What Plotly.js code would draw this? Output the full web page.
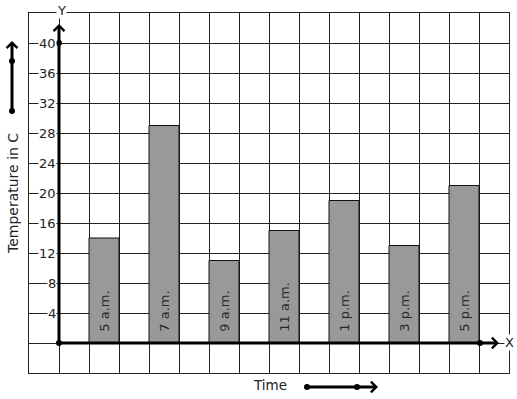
<!DOCTYPE html>
<html><head><meta charset="utf-8">
<script src="https://cdn.plot.ly/plotly-3.0.1.min.js"></script>
<style>html,body{margin:0;padding:0;background:#fff}</style>
</head><body>
<div id="chart" style="width:517px;height:399px"></div>
<script>
var times = ["5 a.m.", "7 a.m.", "9 a.m.", "11 a.m.", "1 p.m.", "3 p.m.", "5 p.m."];
var barPositions = [1.5, 3.5, 5.5, 7.5, 9.5, 11.5, 13.5];
var temperatures = [14, 29, 11, 15, 19, 13, 21];
var yTicks = [4, 8, 12, 16, 20, 24, 28, 32, 36, 40];

// pixel helpers for paper coordinates (plot area 29..509 x 13..373)
function px(x){ return (x - 29) / 480; }
function py(y){ return (373 - y) / 360; }

var traces = [{
  type: 'bar',
  x: barPositions,
  y: temperatures,
  width: 1,
  text: times,
  texttemplate: '\u00a0\u00a0%{text}',
  textposition: 'inside',
  insidetextanchor: 'start',
  textangle: -90,
  textfont: {family: 'DejaVu Sans', size: 13, color: '#2a2a2a'},
  marker: {color: '#999999', line: {color: '#111', width: 1}},
  hoverinfo: 'skip',
  cliponaxis: false
}];

var baseFont = {family: 'DejaVu Sans', size: 13, color: '#222'};
var annotations = [];
yTicks.forEach(function(v){
  annotations.push({x: px(57), xref: 'paper', y: v, yref: 'y', text: String(v),
    showarrow: false, xanchor: 'right', yanchor: 'middle', bgcolor: '#fff',
    borderpad: 0, font: baseFont});
});
function arrow(xp, yp, axp, ayp){
  return {x: px(xp), y: py(yp), xref: 'paper', yref: 'paper', ax: axp - xp, ay: ayp - yp,
    showarrow: true, arrowhead: 4, arrowsize: 0.7, arrowwidth: 3, arrowcolor: '#000', text: '', standoff: 0};
}
function label(xp, yp, txt, angle, size){
  return {x: px(xp), y: py(yp), xref: 'paper', yref: 'paper', text: txt, showarrow: false,
    xanchor: 'center', yanchor: 'middle', textangle: angle || 0, bgcolor: angle ? 'rgba(0,0,0,0)' : '#fff',
    borderpad: 0, font: {family: 'DejaVu Sans', size: size || 13, color: '#222'}};
}
// Y axis arrow
annotations.push(arrow(59, 24, 59, 343));
// X axis arrow
annotations.push(arrow(499, 343, 59, 343));
// Axis letters
annotations.push(label(61, 10, 'Y'));
annotations.push(label(509, 342, 'X'));
// Y title
annotations.push(label(13, 194, 'Temperature in C', -90, 14));
annotations.push(arrow(12, 41, 12, 111));
// X title
annotations.push(label(270, 385, 'Time', 0, 13.5));
annotations.push(arrow(378, 387, 307, 387));

function dot(xp, yp){
  return {type: 'circle', xref: 'paper', yref: 'paper', xsizemode: 'pixel', ysizemode: 'pixel',
    xanchor: px(xp), yanchor: py(yp), x0: -3, x1: 3, y0: -3, y1: 3,
    fillcolor: '#000', line: {width: 0}, layer: 'above'};
}
var shapes = [dot(59, 343), dot(480, 343), dot(59, 43), dot(12, 111), dot(12, 61), dot(307, 387), dot(357, 387)];

var layout = {
  width: 517, height: 399,
  margin: {l: 29, r: 8, t: 13, b: 26, pad: 0},
  paper_bgcolor: '#fff', plot_bgcolor: '#fff',
  showlegend: false,
  xaxis: {range: [-1, 15], dtick: 1, tick0: 0, showgrid: true, gridcolor: '#222', gridwidth: 1,
    zeroline: false, showticklabels: false, ticks: '', showline: true, mirror: true, linecolor: '#222', linewidth: 1,
    fixedrange: true},
  yaxis: {range: [-4, 44], dtick: 4, tick0: 0, showgrid: true, gridcolor: '#222', gridwidth: 1,
    zeroline: false, showticklabels: false, ticks: '', showline: true, mirror: true, linecolor: '#222', linewidth: 1,
    fixedrange: true},
  annotations: annotations,
  shapes: shapes
};
Plotly.newPlot('chart', traces, layout, {displayModeBar: false, staticPlot: true});
</script>
</body></html>
